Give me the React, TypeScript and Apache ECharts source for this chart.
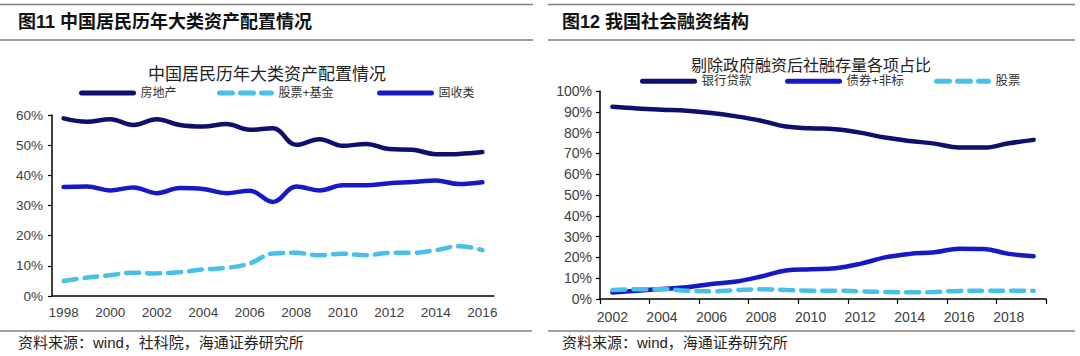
import React, { useEffect, useRef } from "react";
import * as echarts from "echarts";

const leftYears = ["1998","1999","2000","2001","2002","2003","2004","2005","2006","2007","2008","2009","2010","2011","2012","2013","2014","2015","2016"];
const realEstate = [58.9,57.8,58.6,56.7,58.6,56.7,56.2,57.0,55.1,55.6,50.1,52.0,49.8,50.4,48.7,48.5,47.0,47.1,47.7];
const stocksFunds = [5.0,6.1,6.9,7.7,7.5,7.9,8.8,9.3,10.8,14.1,14.3,13.5,14.0,13.5,14.3,14.3,15.2,16.5,15.2];
const fixedIncome = [36.1,36.3,35.0,36.0,34.1,35.8,35.5,34.1,34.9,31.2,36.3,35.0,36.7,36.7,37.4,37.8,38.3,37.1,37.7];

const rightYears = ["2002","2003","2004","2005","2006","2007","2008","2009","2010","2011","2012","2013","2014","2015","2016","2017","2018","2019"];
const bankLoans = [92.4,91.6,91.0,90.5,89.4,87.8,85.7,82.9,82.1,81.6,80.0,77.6,76.0,74.7,72.8,72.8,74.9,76.5];
const bondsNonStd = [3.1,4.0,4.8,5.6,7.2,8.4,10.8,13.7,14.3,14.8,16.9,20.0,21.7,22.5,24.2,24.0,21.7,20.5];
const equities = [4.3,4.7,4.7,4.0,3.7,4.3,4.7,4.3,4.0,4.0,3.7,3.4,3.2,3.4,3.9,4.0,4.0,3.9];

const leftYTicks = [0, 60, 10];
const rightYTicks = [0, 100, 10];

const NAVY = "#0f0f6e";
const BLUE = "#1818c8";
const LIGHT = "#48c0e8";
const NUM_FONT = "'Liberation Sans', Arial, 'Noto Sans CJK SC', sans-serif";
const CJK_FONT = "'Liberation Sans', 'Noto Sans CJK SC', sans-serif";

export default function App() {
  const ref = useRef<HTMLDivElement>(null);
  useEffect(() => {
    if (!ref.current) return;
    const chart = echarts.init(ref.current, null, { renderer: "svg" });
    const axisLine = { show: true, lineStyle: { color: "#000", width: 1.5 } };
    const yAxisCommon = (ticks: number[], fs: number, margin: number) => ({
      type: "value",
      min: ticks[0],
      max: ticks[1],
      interval: ticks[2],
      axisLine,
      axisTick: { show: true, length: 4, lineStyle: { color: "#000", width: 1.2 } },
      splitLine: { show: false },
      axisLabel: { formatter: "{value}%", color: "#404040", fontSize: fs, fontFamily: NUM_FONT, margin },
    });
    const legendItem = (name: string, left: number, top: number, fs: number) => ({
      data: [name],
      left,
      top,
      itemWidth: 52,
      itemHeight: 14,
      itemGap: 0,
      padding: 0,
      itemStyle: { color: "rgba(0,0,0,0)", borderWidth: 0, opacity: 0 },
      lineStyle: { width: 5 },
      textStyle: { color: "#333", fontSize: fs, fontFamily: CJK_FONT, padding: [0, 0, 0, 2] },
    });
    const lineSeries = (name: string, data: number[], color: string, idx: number, dashed: boolean) => ({
      name,
      type: "line",
      data,
      xAxisIndex: idx,
      yAxisIndex: idx,
      smooth: 0.4,
      symbol: "none",
      lineStyle: { color, width: 4.5, type: dashed ? [13, 8] : "solid", cap: "round" },
      itemStyle: { color },
    });
    chart.setOption({
      animation: false,
      backgroundColor: "#fff",
      title: [
        { text: "中国居民历年大类资产配置情况", left: 262, top: 61, textAlign: "center",
          textStyle: { fontSize: 17, fontWeight: "normal", color: "#222", fontFamily: CJK_FONT } },
        { text: "剔除政府融资后社融存量各项占比", left: 806, top: 52, textAlign: "center",
          textStyle: { fontSize: 16, fontWeight: "normal", color: "#222", fontFamily: CJK_FONT } },
      ],
      legend: [
        legendItem("房地产", 79, 87, 12),
        legendItem("股票+基金", 217, 87, 12),
        legendItem("固收类", 377, 87, 12),
        legendItem("银行贷款", 640, 75, 12.5),
        legendItem("债券+非标", 785, 75, 12.5),
        legendItem("股票", 934, 75, 12.5),
      ],
      grid: [
        { left: 52, right: 1080 - 494, top: 115, bottom: 356 - 296 },
        { left: 600, right: 1080 - 1046, top: 91, bottom: 356 - 299 },
      ],
      xAxis: [
        { type: "category", gridIndex: 0, data: leftYears, boundaryGap: true, axisLine,
          axisTick: { show: false },
          axisLabel: { interval: 1, color: "#404040", fontSize: 13.5, fontFamily: NUM_FONT, margin: 10 } },
        { type: "category", gridIndex: 1, data: rightYears, boundaryGap: true, axisLine,
          axisTick: { show: true, interval: 1, length: 5, lineStyle: { color: "#000", width: 1.2 } },
          axisLabel: { interval: 1, color: "#404040", fontSize: 14, fontFamily: NUM_FONT, margin: 11 } },
      ],
      yAxis: [
        { ...yAxisCommon(leftYTicks, 13.5, 9), gridIndex: 0 },
        { ...yAxisCommon(rightYTicks, 14, 8), gridIndex: 1 },
      ],
      series: [
        lineSeries("房地产", realEstate, NAVY, 0, false),
        lineSeries("股票+基金", stocksFunds, LIGHT, 0, true),
        lineSeries("固收类", fixedIncome, BLUE, 0, false),
        lineSeries("银行贷款", bankLoans, NAVY, 1, false),
        lineSeries("债券+非标", bondsNonStd, BLUE, 1, false),
        lineSeries("股票", equities, LIGHT, 1, true),
      ],
      graphic: [
        { type: "line", shape: { x1: 0, y1: 4.5, x2: 533, y2: 4.5 }, style: { stroke: "#7f7f7f", lineWidth: 1.5 } },
        { type: "line", shape: { x1: 0, y1: 40, x2: 533, y2: 40 }, style: { stroke: "#7f7f7f", lineWidth: 1.5 } },
        { type: "line", shape: { x1: 548, y1: 4.5, x2: 1075, y2: 4.5 }, style: { stroke: "#7f7f7f", lineWidth: 1.5 } },
        { type: "line", shape: { x1: 548, y1: 40, x2: 1075, y2: 40 }, style: { stroke: "#7f7f7f", lineWidth: 1.5 } },
        { type: "line", shape: { x1: 0, y1: 331, x2: 532, y2: 331 }, style: { stroke: "#7f7f7f", lineWidth: 1.5 } },
        { type: "line", shape: { x1: 548, y1: 331, x2: 1075, y2: 331 }, style: { stroke: "#7f7f7f", lineWidth: 1.5 } },
        { type: "text", x: 18, y: 22, style: { text: "图11 中国居民历年大类资产配置情况", fontSize: 18, fontWeight: "bold",
          fill: "#111", fontFamily: CJK_FONT, verticalAlign: "middle" } },
        { type: "text", x: 562, y: 22, style: { text: "图12 我国社会融资结构", fontSize: 18, fontWeight: "bold",
          fill: "#111", fontFamily: CJK_FONT, verticalAlign: "middle" } },
        { type: "text", x: 18, y: 342, style: { text: "资料来源：wind，社科院，海通证券研究所", fontSize: 15,
          fill: "#222", fontFamily: CJK_FONT, verticalAlign: "middle" } },
        { type: "text", x: 562, y: 342, style: { text: "资料来源：wind，海通证券研究所", fontSize: 15,
          fill: "#222", fontFamily: CJK_FONT, verticalAlign: "middle" } },
      ],
    });
    return () => chart.dispose();
  }, []);
  return <div ref={ref} style={{ position: "absolute", left: 0, top: 0, width: 1080, height: 356 }} />;
}
